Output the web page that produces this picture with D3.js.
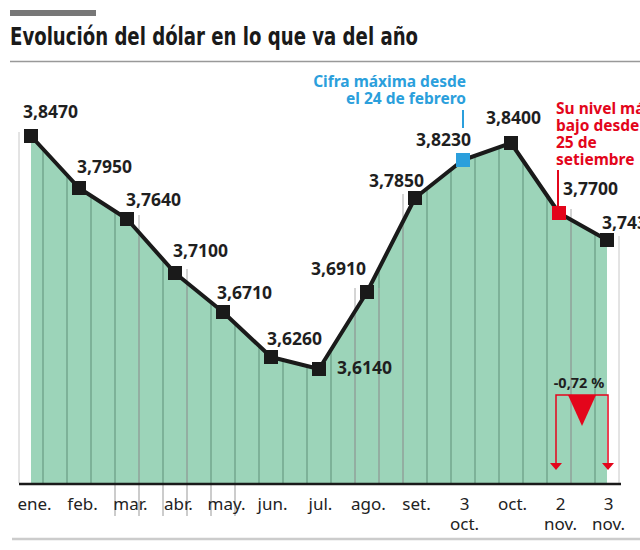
<!DOCTYPE html>
<html><head><meta charset="utf-8">
<script src="https://cdn.jsdelivr.net/npm/d3@7"></script>
<style>
html,body{margin:0;padding:0;background:#fff;}
svg{display:block;}
</style></head>
<body>
<script>
// ---- data ----
const categories = ["ene.","feb.","mar.","abr.","may.","jun.","jul.","ago.","set.","3 oct.","oct.","2 nov.","3 nov."];
const tickLabels = [["ene."],["feb."],["mar."],["abr."],["may."],["jun."],["jul."],["ago."],["set."],["3","oct."],["oct."],["2","nov."],["3","nov."]];
const values = [3.847,3.795,3.764,3.710,3.671,3.626,3.614,3.691,3.785,3.823,3.840,3.770,3.743];
const valueLabels = ["3,8470","3,7950","3,7640","3,7100","3,6710","3,6260","3,6140","3,6910","3,7850","3,8230","3,8400","3,7700","3,7430"];
const titleText = "Evolución del dólar en lo que va del año";
const blueNote = ["Cifra máxima desde","el 24 de febrero"];
const redNote = ["Su nivel más","bajo desde el","25 de","setiembre"];
const highlightBlue = 9, highlightRed = 11;

(function(){
// ---- layout (not data) ----
const W = 640, H = 550;
const labelOffsets = [[-8,-18],[-2,-15],[-1,-13],[-2,-16],[-6,-13],[-4,-12],[18,5],[-56,-17],[-46,-11],[-47,-14],[-25,-19],[4,-18],[-5,-11]];

const svg = d3.select("body").append("svg").attr("width",W).attr("height",H);

// header
svg.append("rect").attr("x",10).attr("y",10).attr("width",86).attr("height",6).attr("fill","#777");
svg.append("text").attr("x",10).attr("y",45).text(titleText)
  .attr("font-family","'DejaVu Sans Condensed','Liberation Sans Narrow',sans-serif")
  .attr("font-weight","bold").attr("font-size",24).attr("fill","#1a1a1a")
  .attr("textLength",408).attr("lengthAdjust","spacingAndGlyphs");
svg.append("line").attr("x1",10).attr("x2",640).attr("y1",61.5).attr("y2",61.5).attr("stroke","#999").attr("stroke-width",1.5);
svg.append("line").attr("x1",12).attr("x2",640).attr("y1",539).attr("y2",539).attr("stroke","#ccc").attr("stroke-width",2.5);

const x = d3.scalePoint().domain(categories).range([31,607]);
const y = d3.scaleLinear().domain([3.5,3.85]).range([483,133]);
const step = x.step();
const data = categories.map((c,i)=>({c, v: values[i], i}));

// area
const area = d3.area().x(d=>x(d.c)).y0(y(3.5)).y1(d=>y(d.v));
svg.append("clipPath").attr("id","areaClip").append("path").attr("d",area(data));
svg.append("path").attr("d",area(data)).attr("fill","#9cd4b9");

// gridlines every half step
const gx = d3.range(x(categories[0])+step/4, x(categories[categories.length-1]), step/2);
svg.append("g").attr("clip-path","url(#areaClip)").selectAll("line").data(gx).join("line")
  .attr("x1",d=>d).attr("x2",d=>d).attr("y1",y(3.5)).attr("y2",y(3.9))
  .attr("stroke","#5f8f78").attr("stroke-width",1);

// guide extensions above the fill (point index, side)
const guides = [[0,-1,"#c8c8c8"],[2,1,"#aaa"],[3,1,"#aaa"],[7,-1,"#aaa"],[7,1,"#aaa"],[8,-1,"#aaa"],[11,1,"#aaa"],[12,1,"#c8c8c8"]];
svg.append("g").selectAll("line").data(guides).join("line")
  .attr("x1",d=>x(categories[d[0]])+d[1]*step/4).attr("x2",d=>x(categories[d[0]])+d[1]*step/4)
  .attr("y1",d=>y(values[d[0]])-4).attr("y2",y(3.5))
  .attr("stroke",d=>d[2]).attr("stroke-width",1);
// small ticks below axis
const below = [2,3,4];
svg.append("g").selectAll("line").data(below.flatMap(i=>[x(categories[i])-step/4, x(categories[i])+step/4]).filter((v,i,a)=>a.indexOf(v)===i))
  .join("line").attr("x1",d=>d).attr("x2",d=>d).attr("y1",y(3.5)).attr("y2",516)
  .attr("stroke","#999").attr("stroke-width",1);

// axis
const xAxis = d3.axisBottom(x).tickSize(0).tickFormat("");
const ax = svg.append("g").attr("transform",`translate(0,${y(3.5)+1})`).call(xAxis);
ax.select(".domain").remove();
svg.append("line").attr("x1",x(categories[0])-12).attr("x2",x(categories[categories.length-1])+14)
  .attr("y1",y(3.5)+1).attr("y2",y(3.5)+1).attr("stroke","#1a1a1a").attr("stroke-width",2.5);
ax.selectAll(".tick").each(function(d,i){
  const t = d3.select(this).append("text").attr("fill","#222")
    .attr("font-family","'Noto Sans',sans-serif").attr("font-size",17).attr("text-anchor","middle");
  tickLabels[i].forEach((s,k)=>t.append("tspan").attr("x",i<5?3:1).attr("y",26+k*20).text(s));
});

// line
const line = d3.line().x(d=>x(d.c)).y(d=>y(d.v));
svg.append("path").attr("d",line(data)).attr("fill","none").attr("stroke","#1a1a1a").attr("stroke-width",4).attr("stroke-linejoin","round");

// markers
svg.append("g").selectAll("rect").data(data).join("rect")
  .attr("x",d=>x(d.c)-7).attr("y",d=>y(d.v)-7).attr("width",14).attr("height",14)
  .attr("fill",d=>d.i===highlightBlue?"#2b9fdc":d.i===highlightRed?"#e3051b":"#1a1a1a");

// value labels
svg.append("g").selectAll("text").data(data).join("text")
  .attr("x",d=>x(d.c)+labelOffsets[d.i][0]).attr("y",d=>y(d.v)+labelOffsets[d.i][1])
  .text(d=>valueLabels[d.i])
  .attr("font-family","'Noto Sans',sans-serif").attr("font-weight","bold").attr("font-size",17.5).attr("fill","#1f1f1f");

// blue annotation
const bx = x(categories[highlightBlue]);
const bt = svg.append("text").attr("text-anchor","end").attr("fill","#2b9fdc")
  .attr("font-family","'Noto Sans',sans-serif").attr("font-weight","bold").attr("font-size",15.5);
blueNote.forEach((s,k)=>bt.append("tspan").attr("x",bx+3).attr("y",87+k*17).text(s));
svg.append("line").attr("x1",bx).attr("x2",bx).attr("y1",110).attr("y2",128).attr("stroke","#2b9fdc").attr("stroke-width",2);

// red annotation
const rx = x(categories[highlightRed]);
const rt = svg.append("text").attr("fill","#e3051b")
  .attr("font-family","'Noto Sans',sans-serif").attr("font-weight","bold").attr("font-size",15.5);
redNote.forEach((s,k)=>rt.append("tspan").attr("x",rx-3).attr("y",114+k*17).text(s));
svg.append("line").attr("x1",rx-1).attr("x2",rx-1).attr("y1",170).attr("y2",y(values[highlightRed])-7).attr("stroke","#e3051b").attr("stroke-width",2);

// percentage bracket
const a = values[highlightRed], b = values[values.length-1];
const pct = (b-a)/a*100;
const pctText = (pct<0?"-":"")+d3.format(".2f")(Math.abs(pct)).replace(".",",")+" %";
const lx = rx-3, rx2 = x(categories[categories.length-1])+1, yTop = 395, yBot = 470;
const red = "#e3051b";
svg.append("path").attr("d",`M${lx},${yBot-6}V${yTop}H${rx2}V${yBot-6}`).attr("fill","none").attr("stroke",red).attr("stroke-width",1.5);
[lx,rx2].forEach(px=>svg.append("path").attr("d",`M${px-6},${yBot-7}L${px+6},${yBot-7}L${px},${yBot}Z`).attr("fill",red));
const mid = (lx+rx2)/2;
svg.append("path").attr("d",`M${mid-14},${yTop}L${mid+14},${yTop}L${mid},${yTop+31}Z`).attr("fill",red);
svg.append("text").attr("x",mid-3).attr("y",388).attr("text-anchor","middle").text(pctText)
  .attr("font-family","'Noto Sans',sans-serif").attr("font-weight","bold").attr("font-size",14.5).attr("fill","#1f1f1f");
})();
</script>
</body></html>
